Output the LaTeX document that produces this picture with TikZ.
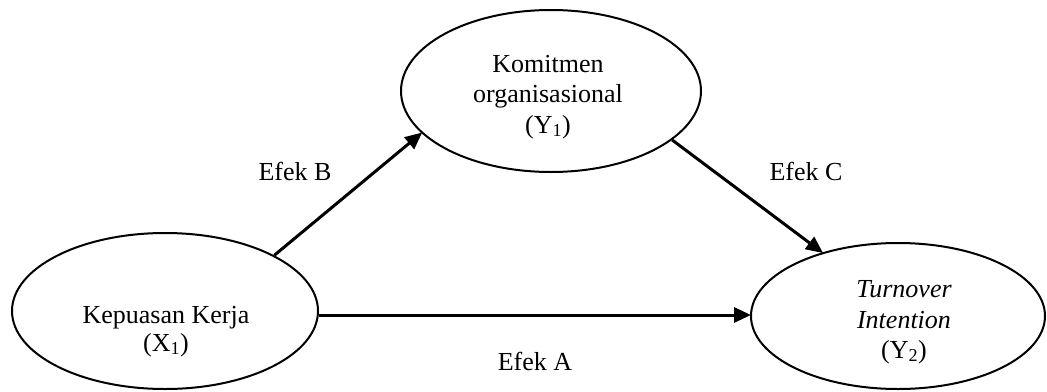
\documentclass[tikz,border=0pt]{standalone}
\usepackage{fontspec}
\setmainfont{Liberation Serif}
\usetikzlibrary{arrows.meta,shapes.geometric}
\begin{document}
\begin{tikzpicture}[x=1pt,y=-1pt,
  var/.style={draw=black,line width=2pt,ellipse,inner sep=0pt},
  txt/.style={font=\fontsize{26}{30}\selectfont,inner sep=0pt,anchor=base},
  link/.style={line width=3pt,-{Triangle[length=17pt,width=15pt]},shorten >=-1pt}]
\useasboundingbox (0,0) rectangle (1047,391);
\fill[white] (0,0) rectangle (1047,391);
\node[var,minimum width=306pt,minimum height=156pt] (L) at (165,311) {};
\node[var,minimum width=300pt,minimum height=162pt] (T) at (551,91) {};
\node[var,minimum width=294pt,minimum height=146pt] (R) at (898,316) {};
\node[txt] (l1) at (166,323) {Kepuasan Kerja};
\node[txt] (l2) at (166,351) {(X\textsubscript{1})};
\node[txt] (t1) at (548,72) {Komitmen};
\node[txt] (t2) at (548,102) {organisasional};
\node[txt] (t3) at (548,133) {(Y\textsubscript{1})};
\node[txt] (r1) at (904,297) {\itshape Turnover};
\node[txt] (r2) at (904,328) {\itshape Intention};
\node[txt] (r3) at (904,358) {(Y\textsubscript{2})};
\node[txt] (eb) at (295,180) {Efek B};
\node[txt] (ec) at (806,180) {Efek C};
\node[txt] (ea) at (535,370) {Efek A};
\draw[link] (L.27.6) -- (T.198.2);
\draw[link] (T.-22.7) -- (R.140.1);
\draw[link] (L.east |- 0,315) coordinate (ls) -- (R.west |- 0,315);
\end{tikzpicture}
\end{document}
